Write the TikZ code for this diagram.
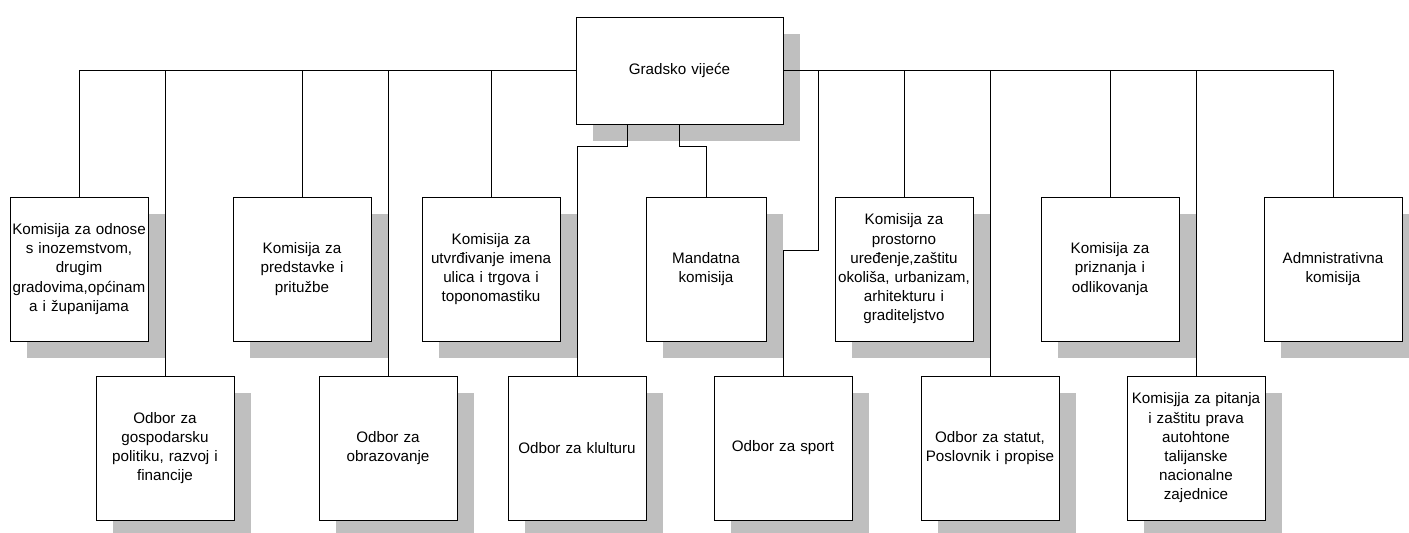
\documentclass[tikz,border=0pt]{standalone}
\usepackage{fontspec}
\setmainfont{Liberation Sans}
\usetikzlibrary{shadows}
\tikzstyle{box} = [rectangle, draw=black, line width=1pt, fill=white, minimum width=138pt, minimum height=144pt, text width=137pt, inner sep=0.5pt, align=center, font=\fontsize{15.2}{19.2}\selectfont, drop shadow={shadow xshift=17pt, shadow yshift=-17pt, fill=black!25, opacity=1}]
\tikzstyle{head} = [box, minimum width=207pt, minimum height=107pt, text width=190pt]
\tikzstyle{narrow} = [box, minimum width=120pt, text width=116pt]
\tikzstyle{link} = [line width=0.8pt]
\begin{document}
\begin{tikzpicture}[node distance=179pt]
		\useasboundingbox (0,0) rectangle (1409pt,-533pt);
		\node (vijece) [head] at (679.5pt,-70.5pt) {Gradsko vijeće};
		% upper row
		\node (inozem) [box, below of=vijece, xshift=-600.5pt, yshift=-19.5pt] {Komisija za odnose\\s inozemstvom,\\drugim\\gradovima,općinam\\a i županijama};
		\node (predst) [box, right of=inozem, xshift=44pt] {Komisija za\\predstavke i\\pritužbe};
		\node (ulice) [box, right of=predst, xshift=10pt] {Komisija za\\utvrđivanje imena\\ulica i trgova i\\toponomastiku};
		\node (mandat) [narrow, right of=ulice, xshift=36pt] {Mandatna\\komisija};
		\node (prostor) [box, right of=mandat, xshift=19pt] {Komisija za\\prostorno\\uređenje,zaštitu\\okoliša, urbanizam,\\arhitekturu i\\graditeljstvo};
		\node (prizn) [box, right of=prostor, xshift=27pt] {Komisija za\\priznanja i\\odlikovanja};
		\node (admin) [box, right of=prizn, xshift=44pt] {Admnistrativna\\komisija};
		% lower row
		\node (gospod) [box, below of=inozem, xshift=86pt] {Odbor za\\gospodarsku\\politiku, razvoj i\\financije};
		\node (obraz) [box, below of=predst, xshift=86pt] {Odbor za\\obrazovanje};
		\node (kultura) [box, below of=ulice, xshift=86pt] {Odbor za klulturu};
		\node (sport) [box, below of=mandat, xshift=77pt] {Odbor za sport};
		\node (statut) [box, below of=prostor, xshift=86pt] {Odbor za statut,\\Poslovnik i propise};
		\node (manjina) [box, below of=prizn, xshift=86pt] {Komisjja za pitanja\\i zaštitu prava\\autohtone\\talijanske\\nacionalne\\zajednice};
		% connectors
		\draw [link] (vijece.west) -| (inozem.north);
		\draw [link] (vijece.west) -| (gospod.north);
		\draw [link] (vijece.west) -| (predst.north);
		\draw [link] (vijece.west) -| (obraz.north);
		\draw [link] (vijece.west) -| (ulice.north);
		\draw [link] (vijece.east) -| (prostor.north);
		\draw [link] (vijece.east) -| (statut.north);
		\draw [link] (vijece.east) -| (prizn.north);
		\draw [link] (vijece.east) -| (manjina.north);
		\draw [link] (vijece.east) -| (admin.north);
		\draw [link] (vijece.east) -| ++(35pt,-179.5pt) -| (sport.north);
		\draw [link] ([xshift=-52pt]vijece.south) -- ++(0,-21.5pt) -| (kultura.north);
		\draw [link] (vijece.south) -- ++(0,-21.5pt) -| (mandat.north);
	\end{tikzpicture}
\end{document}
